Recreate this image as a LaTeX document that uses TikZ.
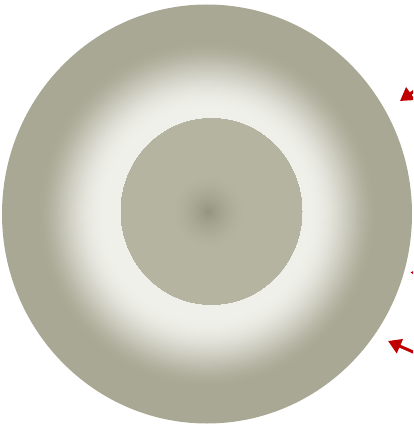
\documentclass[tikz,border=0pt]{standalone}
\usetikzlibrary{arrows.meta}
\definecolor{darkc}{RGB}{169,168,148}
\definecolor{lightc}{RGB}{240,240,235}
\definecolor{innerc}{RGB}{180,180,160}
\definecolor{corec}{RGB}{148,148,128}
\definecolor{arrowred}{RGB}{192,0,0}
\tikzset{
  redarrow/.style={draw=arrowred, line width=3pt, -{Triangle[length=13pt,width=15pt]}}
}
\begin{document}
\begin{tikzpicture}[x=1pt,y=-1pt]
\useasboundingbox (0,0) rectangle (413,425);
\clip (0,0) rectangle (413,425);
% outer disk with light band
\foreach \i in {200,199,...,1}{
  \pgfmathsetmacro\t{\i/200}
  \pgfmathsetmacro\q{min(1,max(0,(0.83-\t)/0.33))}
  \pgfmathsetmacro\p{100*(0.5-0.5*cos(180*\q))^0.8}
  \colorlet{ringc}{lightc!\p!darkc}
  \fill[ringc] (207,214) ellipse ({205*\t} and {209.5*\t});
}
% inner disk
\begin{scope}
\clip (211.5,211.5) ellipse (90.5 and 93);
\foreach \i in {140,139,...,1}{
  \pgfmathsetmacro\t{\i/100}
  \pgfmathsetmacro\q{max(0,1-\t/0.42)}
  \pgfmathsetmacro\p{100*\q^1.7}
  \colorlet{ringc}{corec!\p!innerc}
  \fill[ringc] (208.5,212) ellipse ({90.5*\t} and {93*\t});
}
\end{scope}
% arrows entering from the right
\coordinate (a1s) at (437,75);
\coordinate (a1e) at (400,101);
\coordinate (a2s) at (445,273);
\coordinate (a2e) at (410.5,272.5);
\coordinate (a3s) at (436,362);
\coordinate (a3e) at (388,341);
\draw[redarrow] (a1s) -- (a1e);
\draw[redarrow] (a2s) -- (a2e);
\draw[redarrow] (a3s) -- (a3e);
\end{tikzpicture}
\end{document}
